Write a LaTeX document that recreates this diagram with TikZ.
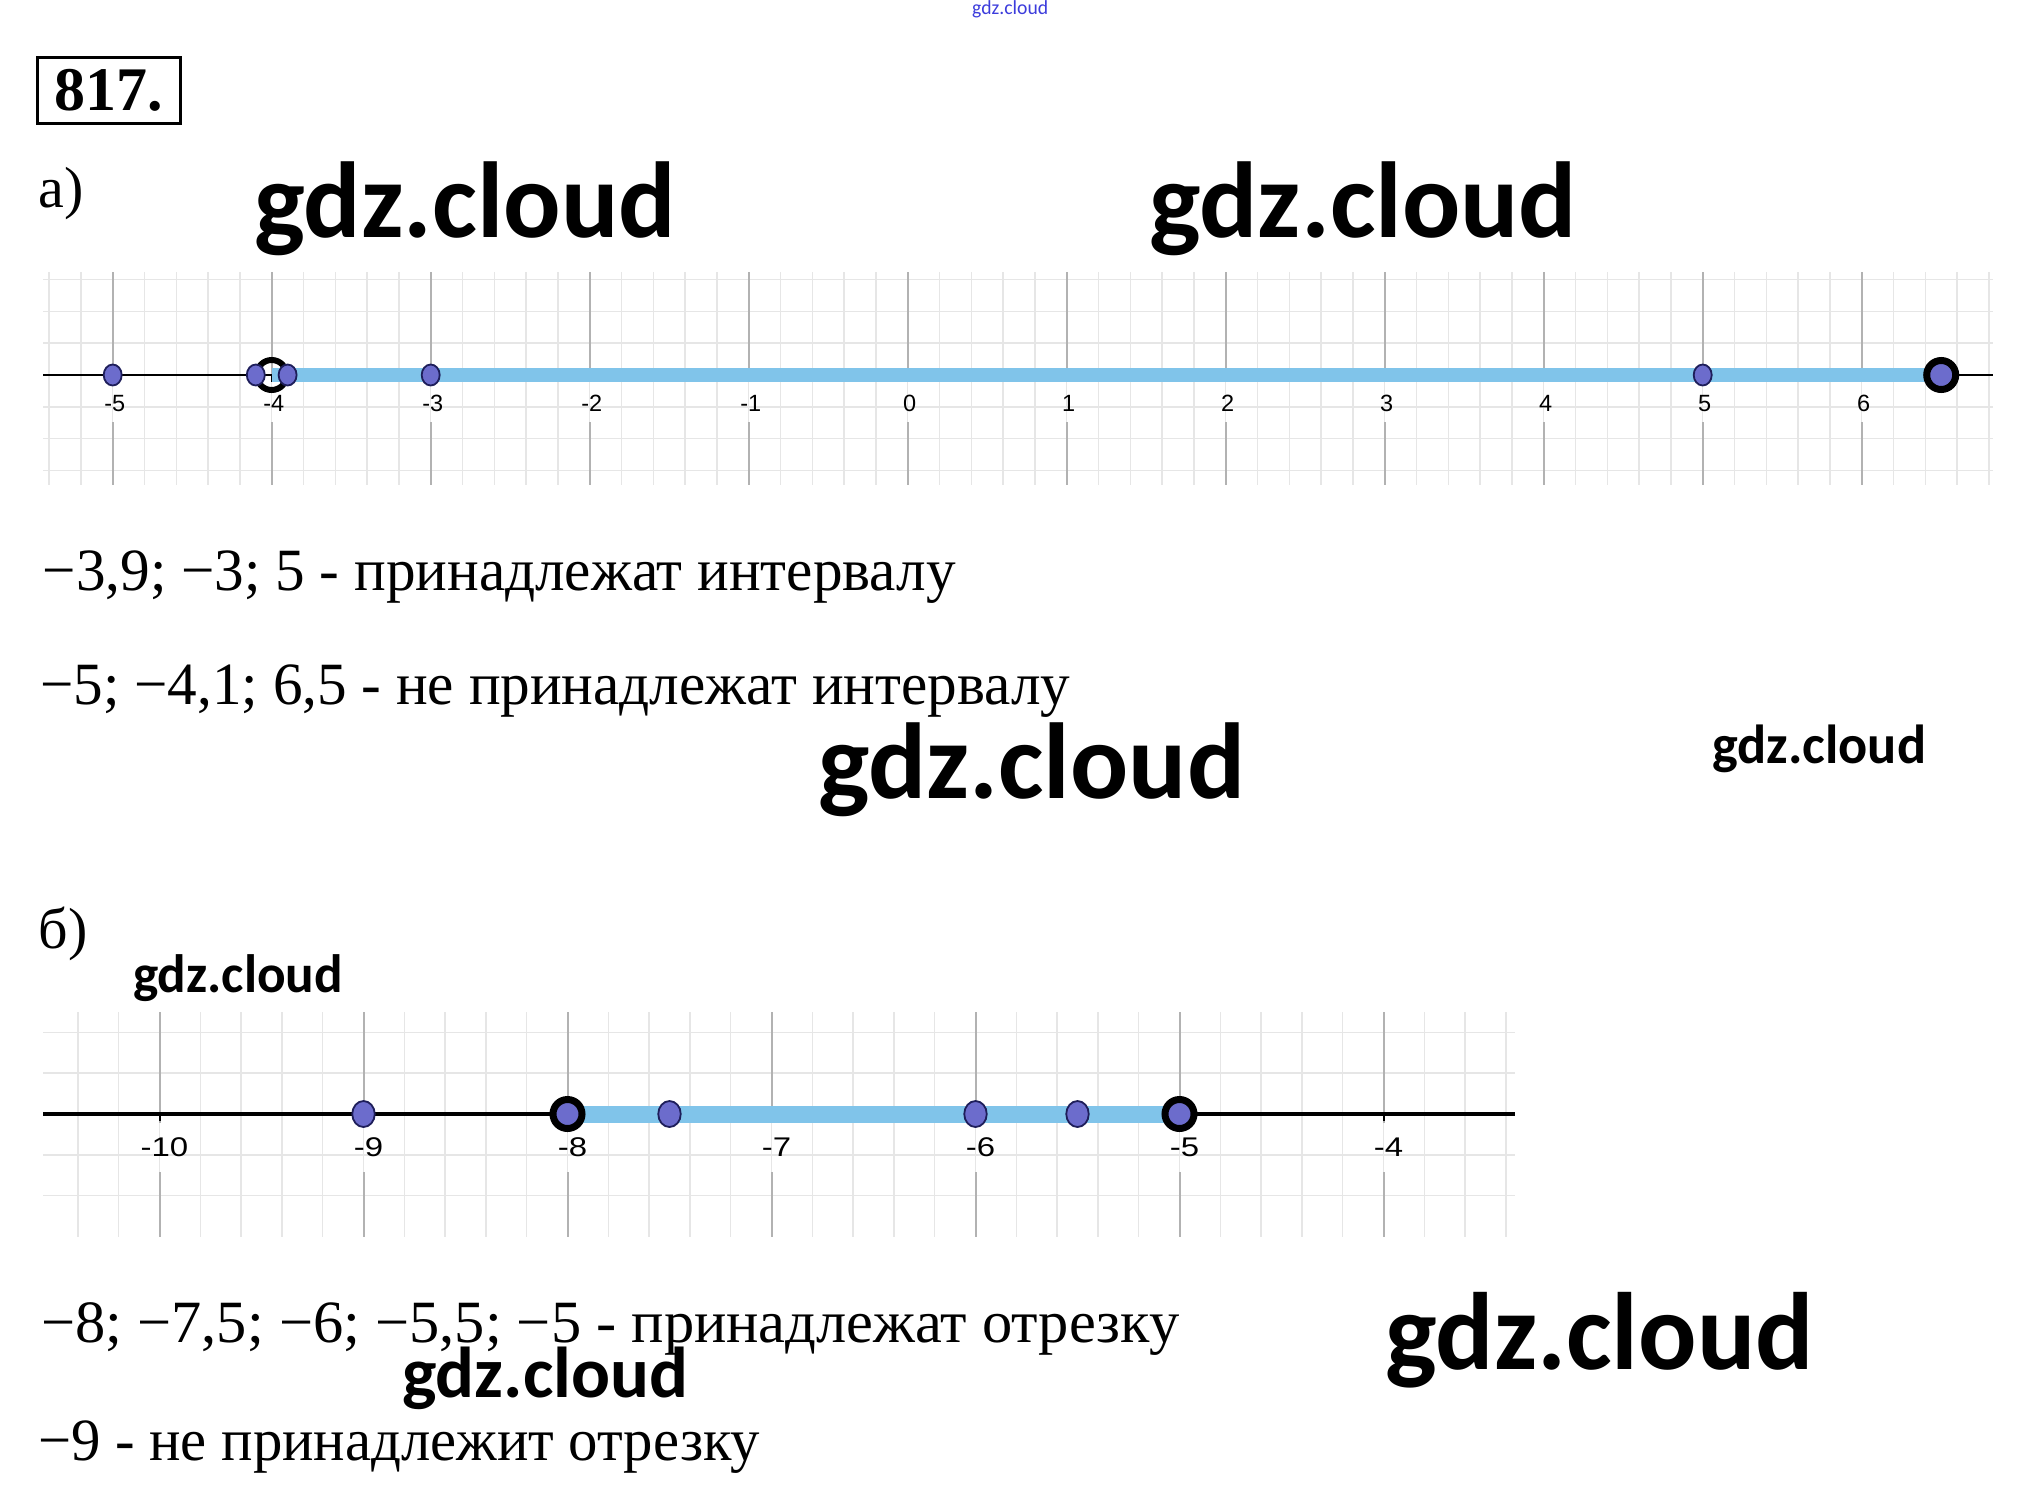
\documentclass[tikz,border=0pt]{standalone}
\usepackage{fontspec}
\setmainfont{Liberation Serif}
\newfontfamily\wmfont{Carlito}
\newfontfamily\labfont{Liberation Sans}
\usetikzlibrary{shapes.geometric}
\definecolor{ptfill}{RGB}{108,108,204}
\definecolor{ptline}{RGB}{30,30,90}
\definecolor{segc}{RGB}{128,196,234}
\definecolor{gmin}{RGB}{230,230,230}
\definecolor{gmaj}{RGB}{178,178,178}
\definecolor{wmblue}{RGB}{60,60,220}
\newcommand{\fitw}[3]{\resizebox{#1pt}{\height}{\fontsize{#2}{#2}\selectfont #3}}
\begin{document}
\begin{tikzpicture}[x=1pt,y=-1pt,
  gridminor/.style={draw=gmin, line width=1.5pt},
  gridmajor/.style={draw=gmaj, line width=2pt},
  axisline/.style={draw=black, line width=2.5pt},
  ticklineA/.style={draw=black, line width=2pt},
  segA/.style={draw=segc, line width=14pt},
  segB/.style={draw=segc, line width=17pt},
  ptsmallA/.style={ellipse, draw=ptline, fill=ptfill, line width=1.8pt, inner sep=0pt, minimum width=18pt, minimum height=21pt},
  ptsmallB/.style={ellipse, draw=ptline, fill=ptfill, line width=1.8pt, inner sep=0pt, minimum width=22.5pt, minimum height=26pt},
  ptbig/.style={circle, draw=black, fill=ptfill, line width=7pt, inner sep=0pt, minimum size=29pt},
  openring/.style={circle, draw=black, line width=6pt, inner sep=0pt, minimum size=30pt},
  txt/.style={anchor=base west, inner sep=0pt},
  labA/.style={inner sep=0pt, font=\labfont\fontsize{23.5}{24}\selectfont},
  labB/.style={inner sep=0pt, font=\labfont\fontsize{27}{28}\selectfont},
  wm/.style={anchor=base west, inner sep=0pt, font=\wmfont\bfseries},
]
\useasboundingbox (0,0) rectangle (2019,1492);
\fill[white] (0,0) rectangle (2019,1492);

% small top watermark
\node[anchor=base west, inner sep=0pt, font=\wmfont, text=wmblue] (wm0) at (972,14) {\fitw{76}{20}{gdz.cloud}};

% number box
\node[draw, line width=3pt, minimum width=143pt, minimum height=66pt, inner sep=0pt,
      font=\bfseries\fontsize{62}{62}\selectfont] (num) at (108.7,90) {817.};

\node[txt, font=\fontsize{58}{60}\selectfont] (parta) at (38.6,207) {а)};
\node[txt, font=\fontsize{58}{60}\selectfont] (partb) at (38.6,948) {б)};

% ---------- part a grid ----------
\foreach \k in {-27,...,34}
  \draw[gridminor] ({907.7+31.8*\k},272) -- ({907.7+31.8*\k},485);
\foreach \j in {-3,-2,-1,1,2,3}
  \draw[gridminor] (43,{375+31.8*\j}) -- (1993,{375+31.8*\j});
\foreach \n in {-5,...,6} {
  \draw[gridmajor] ({907.7+159*\n},272) -- ({907.7+159*\n},380);
  \draw[gridmajor] ({907.7+159*\n},422) -- ({907.7+159*\n},485);
}
\coordinate (aL) at (43,375);
\coordinate (aR) at (1993,375);
\draw[axisline] (aL) -- (aR);
\foreach \n in {-5,...,6}
  \draw[ticklineA] ({907.7+159*\n},375) -- ({907.7+159*\n},382);
\foreach \n in {-5,...,6}
  \node[labA] (la\n) at ({909.7+159*\n},403.5) {\n};

\coordinate (sA) at (271.7,375);
\coordinate (sB) at (1941.2,375);
\draw[segA] (sA) -- (sB);
\node[openring] (ringA) at (sA) {};
\node[ptsmallA] (pa1) at (112.7,375) {};
\node[ptsmallA] (pa2) at (255.8,375) {};
\node[ptsmallA] (pa3) at (287.6,375) {};
\node[ptsmallA] (pa4) at (430.7,375) {};
\node[ptsmallA] (pa5) at (1702.7,375) {};
\node[ptbig] (pa6) at (sB) {};

% ---------- part a texts ----------
\node[txt] (t1) at (42.5,590)
  {\fitw{913}{60}{−3,9; −3; 5 - принадлежат интервалу}};
\node[txt] (t2) at (40,704)
  {\fitw{1030}{60}{−5; −4,1; 6,5 - не принадлежат интервалу}};

% ---------- part b grid ----------
\foreach \k in {-2,...,33}
  \draw[gridminor] ({159.5+40.8*\k},1012) -- ({159.5+40.8*\k},1237);
\foreach \j in {-2,-1,1,2}
  \draw[gridminor] (43,{1114+40.8*\j}) -- (1515,{1114+40.8*\j});
\foreach \n in {0,...,6} {
  \draw[gridmajor] ({159.5+204*\n},1012) -- ({159.5+204*\n},1123);
  \draw[gridmajor] ({159.5+204*\n},1172) -- ({159.5+204*\n},1237);
}
\coordinate (bL) at (43,1114);
\coordinate (bR) at (1515,1114);
\draw[axisline, line width=3.5pt] (bL) -- (bR);
\foreach \n in {0,...,6}
  \draw[ticklineA] ({159.5+204*\n},1114) -- ({159.5+204*\n},1121);
\foreach \n/\t in {0/-10,1/-9,2/-8,3/-7,4/-6,5/-5,6/-4}
  \node[labB] (lb\n) at ({164.5+204*\n},1147) {\scalebox{1.22}[1]{\t}};

\coordinate (sC) at (567.5,1114);
\coordinate (sD) at (1179.5,1114);
\draw[segB] (sC) -- (sD);
\node[ptsmallB] (pb1) at (363.5,1114) {};
\node[ptsmallB] (pb2) at (669.5,1114) {};
\node[ptsmallB] (pb3) at (975.5,1114) {};
\node[ptsmallB] (pb4) at (1077.5,1114) {};
\node[ptbig] (pb5) at (sC) {};
\node[ptbig] (pb6) at (sD) {};

% ---------- part b texts ----------
\node[txt] (t3) at (41,1342)
  {\fitw{1138}{60}{−8; −7,5; −6; −5,5; −5 - принадлежат отрезку}};
\node[txt] (t4) at (38,1460)
  {\fitw{722}{60}{−9 - не принадлежит отрезку}};

% ---------- watermarks ----------
\node[wm] (wm1) at (254,237) {\fitw{422}{108}{gdz.cloud}};
\node[wm] (wm2) at (1149,237) {\fitw{428}{108}{gdz.cloud}};
\node[wm] (wm3) at (818,798) {\fitw{427}{108}{gdz.cloud}};
\node[wm] (wm4) at (1712,763) {\fitw{214}{55}{gdz.cloud}};
\node[wm] (wm5) at (133,992) {\fitw{210}{54}{gdz.cloud}};
\node[wm] (wm6) at (1385,1369) {\fitw{429}{110}{gdz.cloud}};
\node[wm] (wm7) at (402,1397) {\fitw{286}{72}{gdz.cloud}};
\end{tikzpicture}
\end{document}
